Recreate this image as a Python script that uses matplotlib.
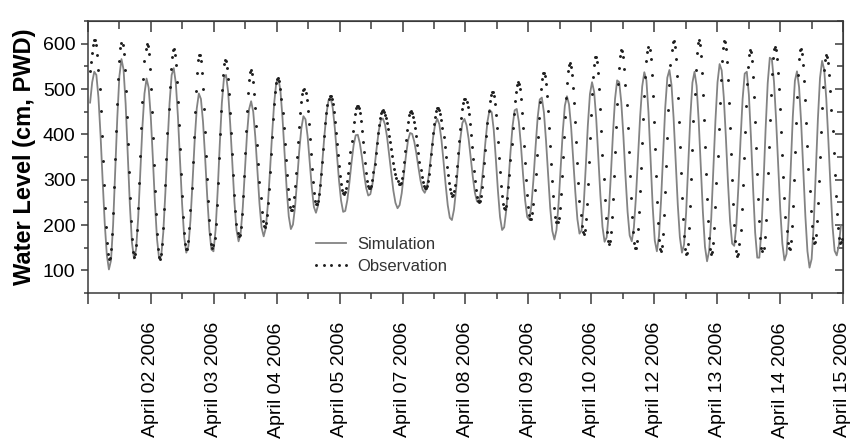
import numpy as np
import matplotlib
matplotlib.use("Agg")
import matplotlib.pyplot as plt

plt.rcParams['font.family'] = ['Liberation Sans', 'DejaVu Sans']

# ---- data (hours from axis start) ----
sim_start, sim_step = 1.0, 1.0
simulation = [
    470, 515, 538,
    531, 481, 398, 298, 204, 134, 102,
    122, 200, 316, 436, 528, 566,
    543, 467, 358, 246, 162, 126,
    147, 216, 314, 415, 490, 523,
    503, 440, 348, 249, 169, 126,
    131, 184, 272, 376, 469, 531,
    546, 513, 439, 343, 246, 173, 139,
    153, 211, 296, 386, 457, 490,
    478, 427, 349, 263, 190, 146,
    142, 189, 275, 377, 469, 524,
    531, 494, 423, 336, 252, 189, 164,
    182, 238, 319, 398, 455,
    473, 450, 394, 320, 247, 194, 175,
    193, 245, 318, 398, 468, 513,
    524, 497, 436, 358, 279, 219, 191,
    201, 240, 299, 363, 413, 440,
    433, 396, 340, 283, 240,
    227, 243, 282, 337, 395, 445, 475,
    481, 459, 415, 357, 299, 254, 229,
    231, 255, 294, 338, 376, 398,
    399, 380, 349, 313, 282, 265,
    268, 290, 327, 369, 407, 431,
    435, 422, 394, 355, 314, 276, 249, 237,
    244, 270, 310, 352, 386, 403,
    401, 384, 358, 327, 298, 278, 271,
    282, 312, 352, 393, 423, 434,
    422, 388, 340, 289, 244, 216,
    211, 234, 279, 336, 389, 425,
    434, 420, 390, 348, 306, 271, 252,
    253, 280, 328, 382, 428, 454,
    449, 410, 346, 276, 218, 189,
    195, 233, 293, 360, 418, 453,
    456, 428, 376, 312, 255, 218,
    212, 242, 301, 372, 437, 477,
    481, 448, 386, 311, 238, 187, 168,
    189, 247, 326, 405, 463, 484,
    466, 416, 346, 273, 213, 181,
    188, 242, 328, 420, 489, 515,
    494, 435, 351, 265, 196, 163,
    173, 226, 310, 401, 478, 519,
    515, 470, 396, 308, 229, 177,
    164, 194, 262, 351, 439, 506, 537,
    519, 448, 346, 241, 166,
    142, 175, 254, 358, 459, 525,
    542, 509, 436, 341, 245, 173, 139,
    157, 228, 332, 438, 514,
    538, 507, 430, 329, 229, 152, 120,
    143, 215, 321, 430, 515, 555,
    541, 482, 393, 294, 209, 159,
    154, 200, 286, 387, 478, 534,
    538, 487, 392, 282, 183, 128,
    128, 188, 293, 412, 513, 569,
    565, 516, 433, 332, 234, 159, 122,
    136, 210, 324, 439, 518,
    539, 504, 425, 323, 220, 142, 106,
    125, 202, 316, 434, 524, 562,
    543, 479, 387, 287, 197, 143,
    133, 155, 200,
]

obs_start, obs_step = 1.0, 0.5
observation = [
    540, 560, 580, 597, 607,
    609, 598, 576, 543, 501, 451, 397, 342, 288, 238, 195, 161, 137, 126,
    128, 146, 180, 226, 283, 345, 407, 468, 521, 562, 590, 602,
    597, 577, 542, 495, 439, 378, 317, 259, 208, 169, 141, 130,
    135, 155, 190, 237, 292, 353, 414, 472, 522, 561, 589, 600,
    595, 577, 544, 501, 450, 392, 333, 276, 224, 181, 148, 130,
    125, 135, 158, 193, 236, 289, 345, 402, 456, 504, 544, 571, 587,
    588, 576, 552, 516, 471, 421, 367, 313, 263, 218, 183, 157, 146,
    148, 164, 193, 234, 282, 339, 395, 449, 496, 536, 563, 576,
    575, 561, 535, 499, 455, 405, 353, 302, 254, 212, 180, 159, 150,
    155, 172, 203, 244, 293, 347, 401, 452, 497, 531, 555, 565,
    561, 547, 522, 489, 448, 403, 356, 310, 267, 230, 202, 183, 175,
    179, 196, 225, 263, 309, 358, 407, 452, 491, 520, 537,
    541, 534, 516, 490, 458, 419, 377, 334, 294, 259, 229, 208, 197,
    196, 204, 222, 248, 280, 316, 356, 395, 433, 466, 494, 513, 523,
    524, 517, 501, 477, 447, 414, 379, 343, 310, 280, 257, 240, 233,
    234, 243, 261, 286, 315, 349, 383, 416, 446, 471, 489, 498,
    499, 491, 475, 451, 422, 389, 356, 323, 294, 270, 254, 246,
    246, 254, 268, 288, 312, 339, 368, 397, 424, 447, 465, 478, 484,
    484, 478, 466, 449, 428, 404, 379, 354, 330, 309, 291, 277, 270,
    268, 272, 282, 297, 315, 337, 361, 385, 408, 428, 445, 457, 463,
    463, 458, 446, 429, 408, 384, 360, 336, 315, 298, 286, 281,
    281, 287, 299, 316, 335, 358, 380, 402, 421, 437, 447, 452,
    453, 449, 443, 435, 424, 411, 397, 382, 367, 352, 337, 324, 312, 303, 296, 291,
    290, 293, 304, 320, 340, 363, 387, 409, 428, 442, 450,
    451, 447, 439, 427, 413, 396, 377, 358, 339, 322, 306, 294, 285, 281,
    281, 286, 297, 313, 333, 356, 379, 402, 422, 439, 451, 458,
    459, 454, 445, 431, 414, 395, 373, 351, 329, 310, 293, 279, 270, 265,
    266, 274, 288, 308, 331, 358, 385, 412, 435, 455, 469, 477,
    478, 472, 461, 444, 423, 398, 372, 346, 320, 296, 277, 262, 253,
    250, 254, 265, 284, 307, 336, 366, 397, 426, 452, 473, 487, 494,
    493, 484, 467, 443, 414, 382, 348, 316, 287, 264, 246, 237,
    236, 243, 259, 283, 311, 344, 379, 413, 445, 473, 494, 509, 515,
    512, 499, 477, 448, 414, 375, 337, 300, 267, 240, 222, 214,
    214, 226, 247, 277, 313, 354, 395, 436, 472, 501, 523, 535,
    536, 528, 510, 484, 452, 415, 375, 335, 298, 264, 237, 217, 207,
    206, 216, 237, 268, 307, 350, 395, 439, 480, 513, 539, 553,
    557, 549, 531, 503, 470, 427, 382, 337, 293, 254, 223, 197, 184,
    180, 190, 213, 247, 290, 340, 391, 443, 489, 527, 554, 570,
    571, 559, 535, 500, 456, 407, 355, 302, 256, 215, 184, 165, 158,
    165, 185, 217, 257, 307, 361, 416, 466, 512, 547, 573, 585,
    584, 570, 544, 508, 464, 414, 361, 309, 260, 218, 184, 160, 149,
    150, 165, 192, 229, 275, 326, 381, 434, 484, 527, 561, 582, 592,
    587, 566, 530, 484, 427, 367, 307, 251, 204, 168, 148,
    142, 154, 181, 221, 272, 331, 392, 453, 508, 552, 585, 603,
    605, 592, 567, 528, 481, 427, 371, 314, 260, 213, 176, 148, 135,
    138, 157, 193, 242, 301, 365, 430, 490, 541, 579, 602,
    608, 597, 573, 535, 486, 431, 372, 312, 258, 208, 171, 146, 135,
    140, 160, 194, 239, 293, 352, 412, 470, 520, 562, 591, 605,
    604, 588, 560, 520, 470, 415, 357, 300, 247, 201, 165, 142, 132,
    137, 157, 190, 235, 289, 347, 406, 462, 511, 549, 575, 586,
    581, 561, 527, 483, 428, 370, 312, 257, 209, 172, 150, 142,
    150, 173, 210, 258, 314, 373, 432, 487, 532, 568, 588,
    593, 585, 566, 536, 499, 455, 406, 355, 305, 259, 217, 186, 161, 149,
    148, 164, 197, 242, 299, 362, 424, 482, 531, 566, 586,
    588, 577, 553, 518, 475, 426, 375, 323, 274, 231, 197, 172, 161,
    162, 178, 208, 248, 297, 351, 406, 458, 504, 541, 565, 575,
    571, 557, 531, 495, 453, 407, 358, 310, 264, 224, 194, 171, 161,
    162, 170,
]

x_span_hours = 361.0
tick_labels = ['', 'April 02 2006', 'April 03 2006', 'April 04 2006', 'April 05 2006',
               'April 07 2006', 'April 08 2006', 'April 09 2006', 'April 10 2006',
               'April 12 2006', 'April 13 2006', 'April 14 2006', 'April 15 2006']

sim_t = sim_start + sim_step * np.arange(len(simulation))
obs_t = obs_start + obs_step * np.arange(len(observation))

fig = plt.figure(figsize=(8.52, 4.43), dpi=100)
ax = fig.add_axes([88 / 852, 1 - 293 / 443, 755 / 852, 272 / 443])

ax.plot(sim_t, simulation, color='#838383', lw=1.3, label='Simulation', zorder=2)
ax.plot(obs_t, observation, linestyle='none', marker='o', markersize=2.1,
        markeredgewidth=0, color='#1e1e1e', label='Observation', zorder=3)

ax.set_xlim(0, x_span_hours)
ax.set_ylim(50, 650)

n = len(tick_labels) - 1
d = x_span_hours / n
major_x = [k * d for k in range(n + 1)]
minor_x = [(k + 0.5) * d for k in range(n)]
ax.set_xticks(major_x)
ax.set_xticklabels(tick_labels, rotation=90, fontsize=14)
ax.set_xticks(minor_x, minor=True)
ax.set_yticks([100, 200, 300, 400, 500, 600])
ax.set_yticks([50, 150, 250, 350, 450, 550, 650], minor=True)
ax.tick_params(axis='y', labelsize=14)

spine_c = '#3a3a3a'
for s in ax.spines.values():
    s.set_color(spine_c)
    s.set_linewidth(1.1)

ax.tick_params(axis='x', which='major', direction='out', length=8, width=1.1,
               color=spine_c, pad=13)
ax.tick_params(axis='x', which='minor', direction='out', length=4, width=1.1, color=spine_c)
ax.tick_params(axis='y', which='major', direction='out', length=5, width=1.1,
               color=spine_c, pad=4)
ax.tick_params(axis='y', which='minor', direction='out', length=3, width=1.1, color=spine_c)

top = ax.secondary_xaxis('top')
top.set_xticks(major_x)
top.set_xticks(minor_x, minor=True)
top.set_xticklabels([])
top.tick_params(which='major', direction='in', length=8, width=1.1, color=spine_c)
top.tick_params(which='minor', direction='in', length=6, width=1.1, color=spine_c)
top.spines['top'].set_color(spine_c)

right = ax.secondary_yaxis('right')
right.set_yticks([100, 200, 300, 400, 500, 600])
right.set_yticks([50, 150, 250, 350, 450, 550, 650], minor=True)
right.set_yticklabels([])
right.tick_params(which='major', direction='in', length=6, width=1.1, color=spine_c)
right.tick_params(which='minor', direction='in', length=4, width=1.1, color=spine_c)
right.spines['right'].set_color(spine_c)

ax.set_ylabel('Water Level (cm, PWD)', fontsize=17, fontweight='bold', labelpad=5)

leg = ax.legend(loc='center left', bbox_to_anchor=(0.296, 0.138), frameon=False,
                fontsize=12, numpoints=5, handlelength=2.4, handletextpad=0.35,
                borderpad=0, borderaxespad=0, labelspacing=0.45)
for t in leg.get_texts():
    t.set_color('#333333')

fig.savefig('out.png', dpi=100)
